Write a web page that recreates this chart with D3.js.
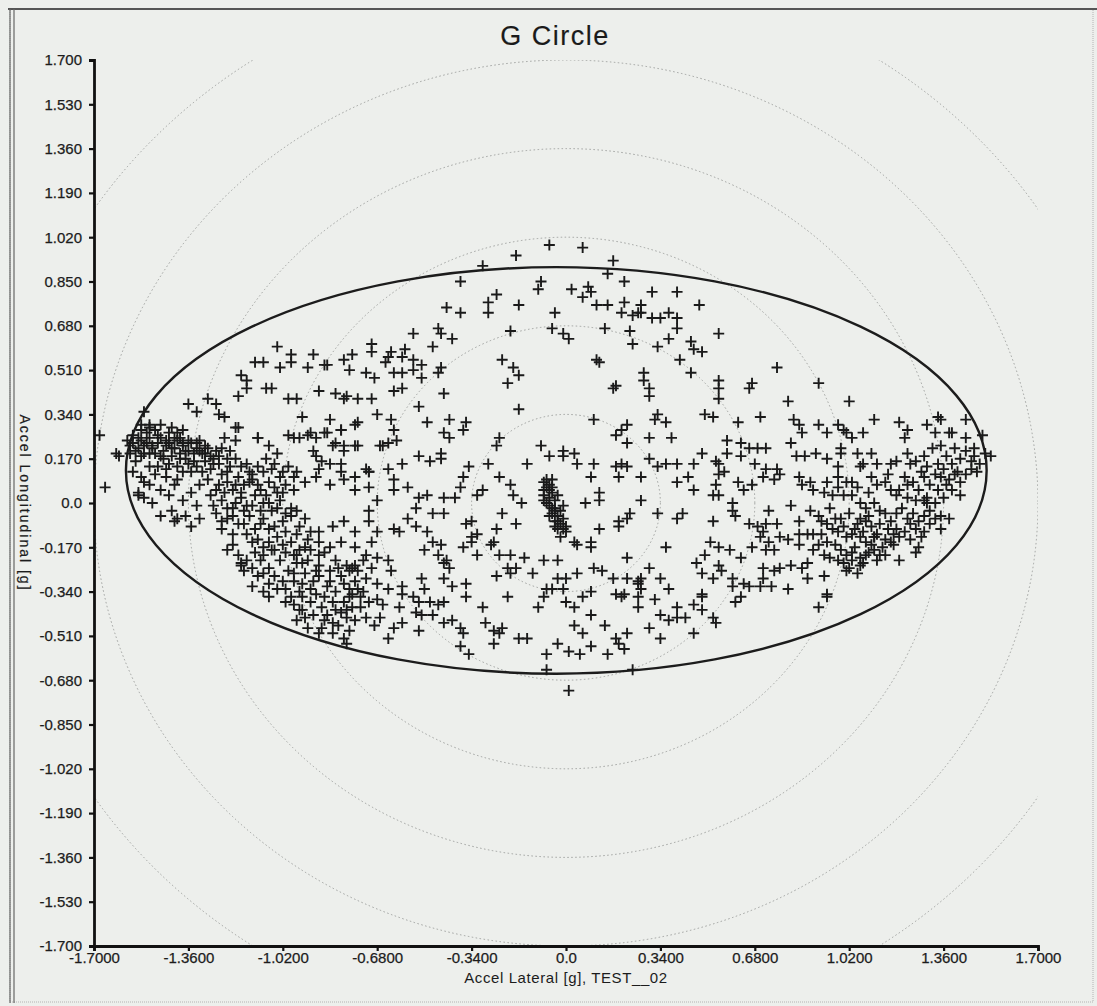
<!DOCTYPE html>
<html>
<head>
<meta charset="utf-8">
<script src="https://cdn.jsdelivr.net/npm/d3@7"></script>
<style>
  html, body { margin: 0; padding: 0; background: #edefec; }
  svg { display: block; font-family: Arial, "Liberation Sans", sans-serif; }
</style>
</head>
<body>
<svg id="gCircle" width="1097" height="1006"></svg>
<script>
// ---- data (g units) ----
const xTicks = [-1.7, -1.36, -1.02, -0.68, -0.34, 0, 0.34, 0.68, 1.02, 1.36, 1.7];
const xTickLabels = ["-1.7000", "-1.3600", "-1.0200", "-0.6800", "-0.3400", "0.0", "0.3400", "0.6800", "1.0200", "1.3600", "1.7000"];
const yTicks = [1.7, 1.53, 1.36, 1.19, 1.02, 0.85, 0.68, 0.51, 0.34, 0.17, 0, -0.17, -0.34, -0.51, -0.68, -0.85, -1.02, -1.19, -1.36, -1.53, -1.7];
const yTickLabels = ["1.700", "1.530", "1.360", "1.190", "1.020", "0.850", "0.680", "0.510", "0.340", "0.170", "0.0", "-0.170", "-0.340", "-0.510", "-0.680", "-0.850", "-1.020", "-1.190", "-1.360", "-1.530", "-1.700"];

const gridRadii = [0.34, 0.68, 1.02, 1.36, 1.7, 2.04];
const gEllipse = { cx: -0.035, cy: 0.125, rx: 1.55, ry: 0.78 };

// [lateral, longitudinal]
const upperLeft = [
  [-0.06,0.99],[-0.18,0.95],[-0.30,0.91],[-0.38,0.85],[-0.09,0.85],[-0.10,0.82],[-0.25,0.80],[-0.28,0.77],[-0.28,0.73],[-0.43,0.75],
  [-0.38,0.73],[-0.17,0.76],[-0.04,0.73],[-0.20,0.66],[-0.05,0.67],[-0.01,0.65],[-0.55,0.65],[-0.46,0.67],[-0.45,0.65],[-0.41,0.63],
  [-0.48,0.60],[-0.70,0.61],[-0.70,0.58],[-0.58,0.59],[-1.04,0.60],[-0.99,0.57],[-0.99,0.54],[-0.91,0.57],[-0.86,0.53],[-0.87,0.53],
  [-0.80,0.55],[-0.77,0.57],[-1.12,0.54],[-1.09,0.54],[-1.03,0.52],[-0.93,0.52],[-0.78,0.51],[-0.72,0.50],[-0.69,0.48],[-0.64,0.56],
  [-0.65,0.54],[-0.63,0.58],[-0.59,0.56],[-0.55,0.55],[-0.52,0.53],[-0.62,0.50],[-0.59,0.50],[-0.55,0.51],[-0.52,0.48],[-0.45,0.52],
  [-0.46,0.50],[-0.23,0.55],[-0.19,0.52],[-0.17,0.49],[-0.21,0.46],[-1.17,0.49],[-1.15,0.47],[-1.15,0.44],[-1.18,0.41],[-1.08,0.44],
  [-1.06,0.44],[-0.89,0.43],[-0.83,0.42],[-0.80,0.40],[-0.79,0.41],[-0.75,0.40],[-0.70,0.40],[-0.62,0.43],[-0.59,0.44],[-0.44,0.42],
  [-0.53,0.37],[-1.00,0.40],[-0.97,0.40],[-1.36,0.38],[-1.29,0.40],[-1.26,0.38],[-1.33,0.35],[-1.25,0.34],[-1.23,0.33],[-1.52,0.35],
  [-0.95,0.33],[-0.85,0.32],[-0.81,0.28],[-0.86,0.27],[-0.75,0.31],[-0.68,0.34],[-0.63,0.32],[-0.62,0.28],[-0.50,0.31],[-0.42,0.32],
  [-0.36,0.31],[-0.37,0.28],[-0.44,0.27],[-0.42,0.25],[-0.17,0.36],[-0.24,0.25],[-0.25,0.22],[-1.19,0.29],[-1.42,0.29],[-1.38,0.28],
  [-1.50,0.30],[-1.53,0.28],[-0.93,0.26],[-0.98,0.25],[-0.90,0.25],[-1.11,0.25],[-0.83,0.23],[-0.80,0.22],[-0.76,0.22],[-0.67,0.22],
  [-0.64,0.23],[-0.61,0.24],[-0.53,0.18],[-0.49,0.16],[-0.45,0.19],[-0.45,0.17],[-0.28,0.15],[-0.35,0.14],[-0.14,0.15],[-0.09,0.22],
  [-0.06,0.18],[-0.01,0.20],[-0.01,0.18],[-0.64,0.13],[-0.59,0.15],[-0.71,0.12]
];

const leftBand = [
  [-1.58,0.24],[-1.56,0.23],[-1.54,0.25],[-1.52,0.22],[-1.51,0.23],[-1.49,0.21],[-1.47,0.23],[-1.46,0.25],[-1.44,0.22],[-1.43,0.23],
  [-1.41,0.21],[-1.40,0.24],[-1.38,0.22],[-1.36,0.20],[-1.35,0.23],[-1.33,0.21],[-1.31,0.19],[-1.30,0.22],[-1.28,0.18],[-1.26,0.20],
  [-1.57,0.19],[-1.53,0.18],[-1.50,0.19],[-1.46,0.18],[-1.42,0.18],[-1.37,0.17],[-1.34,0.16],[-1.51,0.27],[-1.48,0.28],[-1.43,0.27],
  [-1.39,0.25],[-1.32,0.24],[-1.55,0.16],[-1.47,0.14],[-1.40,0.14],[-1.53,0.30],[-1.50,0.29],[-1.46,0.30],[-1.40,0.27],[-1.18,0.29],
  [-1.23,0.25],[-1.19,0.24],[-1.11,0.25],[-1.07,0.22],[-1.04,0.19],[-1.00,0.26],[-0.96,0.25],[-0.92,0.27],[-0.87,0.27],[-0.81,0.28],
  [-0.76,0.30],[-0.84,0.22],[-0.80,0.20],[-0.75,0.22],[-0.81,0.15],[-0.91,0.20],[-0.88,0.16],[-0.89,0.13],[-0.72,0.13],[-0.71,0.12],
  [-0.66,0.22],
  [-1.57,0.22],[-1.55,0.20],[-1.53,0.24],[-1.52,0.19],[-1.50,0.25],[-1.49,0.22],[-1.48,0.19],[-1.47,0.26],[-1.45,0.20],[-1.44,0.24],
  [-1.42,0.21],[-1.41,0.25],[-1.39,0.19],[-1.38,0.23],[-1.37,0.20],[-1.36,0.24],[-1.34,0.19],[-1.33,0.23],[-1.32,0.20],[-1.30,0.19],
  [-1.29,0.21],[-1.27,0.17],[-1.25,0.18],[-1.24,0.21],[-1.22,0.17],[-1.21,0.20],[-1.56,0.26],[-1.54,0.21],[-1.45,0.17],[-1.43,0.15],
  [-1.39,0.17],[-1.36,0.15],[-1.33,0.14],[-1.31,0.12],[-1.38,0.12],[-1.44,0.13],[-1.50,0.14],[-1.56,0.12],[-1.48,0.11],[-1.52,0.08],
  [-1.68,0.26],[-1.66,0.06],[-1.62,0.19],[-1.61,0.18]
];

const leftCluster = [
  [-1.30,0.16],[-1.28,0.13],[-1.25,0.15],[-1.22,0.12],[-1.19,0.17],[-1.17,0.14],[-1.14,0.12],[-1.11,0.14],[-1.08,0.17],[-1.06,0.13],
  [-1.03,0.10],[-1.00,0.14],[-1.29,0.09],[-1.25,0.07],[-1.22,0.08],[-1.20,0.05],[-1.16,0.07],[-1.13,0.09],[-1.10,0.05],[-1.07,0.08],
  [-1.04,0.04],[-1.01,0.07],[-1.28,0.03],[-1.24,0.01],[-1.20,-0.02],[-1.17,0.02],[-1.15,-0.01],[-1.12,0.03],[-1.09,0.00],[-1.06,-0.03],
  [-1.03,0.01],[-0.99,-0.02],[-1.26,-0.04],[-1.22,-0.06],[-1.18,-0.08],[-1.14,-0.05],[-1.10,-0.08],[-1.07,-0.10],[-1.02,-0.07],[-0.99,-0.05],
  [-0.96,-0.09],[-1.15,-0.12],[-1.11,-0.14],[-1.07,-0.15],[-1.04,-0.13],[-0.99,-0.15],[-0.96,-0.18],[-0.92,-0.11],[-0.89,-0.15],
  [-1.27,0.15],[-1.24,0.11],[-1.21,0.14],[-1.18,0.10],[-1.15,0.15],[-1.13,0.11],[-1.09,0.12],[-1.05,0.15],[-1.02,0.12],[-0.98,0.10],
  [-1.26,0.05],[-1.23,0.04],[-1.19,0.07],[-1.17,0.04],[-1.14,0.08],[-1.11,0.07],[-1.08,0.03],[-1.05,0.06],[-1.02,0.04],[-0.98,0.05],
  [-1.27,-0.01],[-1.22,-0.02],[-1.19,0.00],[-1.16,-0.03],[-1.13,-0.01],[-1.10,-0.03],[-1.07,0.00],[-1.04,-0.02],[-1.01,-0.04],[-0.97,-0.03],
  [-1.24,-0.07],[-1.20,-0.05],[-1.16,-0.08],[-1.12,-0.10],[-1.09,-0.06],[-1.05,-0.09],[-1.01,-0.11],[-0.97,-0.12],[-0.94,-0.06],[-0.93,-0.14],
  [-1.13,-0.15],[-1.09,-0.17],[-1.05,-0.18],[-1.02,-0.16],[-0.98,-0.20],[-0.95,-0.23],[-0.92,-0.18],[-0.87,-0.19],[-1.20,-0.12],[-1.24,-0.10],
  [-1.54,0.04],[-1.52,0.02],[-1.49,0.00],[-1.46,0.05],[-1.43,0.03],[-1.41,0.07],[-1.38,0.01],[-1.35,0.04],[-1.33,-0.01],[-1.37,-0.05],
  [-1.42,-0.03],[-1.46,-0.05],[-1.50,0.07],[-1.53,0.10],[-1.44,0.10],[-1.40,0.09],[-1.35,0.12],[-1.32,0.07],[-1.41,-0.07],[-1.35,-0.09],
  [-0.90,0.18],[-0.85,0.15],[-0.81,0.12],[-0.76,0.10],[-0.97,0.12],[-0.94,0.08],[-0.90,0.10],[-0.85,0.07],[-0.80,0.09],[-0.76,0.05]
];

const leftDiagonal = [
  [-1.22,-0.18],[-1.18,-0.20],[-1.15,-0.22],[-1.12,-0.19],[-1.10,-0.22],[-1.07,-0.25],[-1.03,-0.22],[-1.00,-0.26],[-0.97,-0.23],[-0.94,-0.27],
  [-0.91,-0.30],[-0.89,-0.28],[-0.86,-0.32],[-0.83,-0.34],[-0.80,-0.31],[-0.78,-0.36],[-1.16,-0.26],[-1.11,-0.28],[-1.07,-0.31],[-1.04,-0.33],
  [-0.99,-0.36],[-0.96,-0.34],[-0.92,-0.38],[-0.88,-0.40],[-0.84,-0.38],[-0.81,-0.42],[-0.77,-0.40],[-1.06,-0.18],[-1.01,-0.19],[-0.97,-0.20],
  [-0.93,-0.22],[-0.89,-0.24],[-0.85,-0.26],[-0.81,-0.28],[-0.76,-0.30],[-0.73,-0.34],[-0.96,-0.41],[-0.91,-0.43],[-0.87,-0.45],[-0.82,-0.47],
  [-0.78,-0.49],[-0.90,-0.35],[-1.01,-0.38],[-0.98,-0.30],[-0.94,-0.17],[-0.89,-0.20],[-0.83,-0.22],[-0.79,-0.24],[-0.75,-0.26],[-0.72,-0.20],
  [-0.76,-0.17],[-0.81,-0.15],[-0.85,-0.17],[-0.89,-0.11],[-0.84,-0.09],[-0.80,-0.07],[-0.76,-0.11],[-0.71,-0.07],[-0.70,-0.15],[-0.68,-0.11],
  [-1.20,-0.16],[-1.17,-0.23],[-1.13,-0.25],[-1.09,-0.20],[-1.05,-0.28],[-1.02,-0.30],[-0.98,-0.27],[-0.95,-0.31],[-0.92,-0.33],[-0.90,-0.26],
  [-0.87,-0.36],[-0.85,-0.30],[-0.83,-0.41],[-0.80,-0.38],[-0.79,-0.44],[-0.76,-0.45],[-0.74,-0.40],[-0.75,-0.33],[-0.72,-0.44],[-0.86,-0.43],
  [-0.84,-0.50],[-0.80,-0.52],[-0.94,-0.44],[-0.98,-0.39],[-1.13,-0.32],[-1.09,-0.34],[-0.93,-0.48],[-0.89,-0.50],[-0.77,-0.35],[-0.82,-0.25]
];

const lowerLeft = [
  [-1.54,0.03],[-1.40,-0.06],[-1.32,-0.06],[-1.17,-0.24],[-1.09,-0.27],[-1.07,-0.36],[-1.01,-0.33],[-0.95,-0.36],[-0.95,-0.41],[-0.97,-0.45],
  [-0.88,-0.48],[-0.84,-0.46],[-0.79,-0.41],[-0.79,-0.54],[-0.71,0.06],[-0.68,0.01],[-0.71,-0.03],[-0.62,0.09],[-0.62,0.05],[-0.57,0.06],
  [-0.53,0.02],[-0.50,0.03],[-0.44,0.02],[-0.40,0.02],[-0.37,0.10],[-0.38,0.06],[-0.32,0.03],[-0.30,0.05],[-0.24,0.10],[-0.20,0.07],
  [-0.19,0.03],[-0.16,0.00],[-0.23,-0.04],[-0.18,-0.08],[-0.25,-0.10],[-0.32,-0.12],[-0.36,-0.08],[-0.34,-0.07],[-0.48,-0.04],[-0.44,-0.04],
  [-0.54,-0.02],[-0.57,-0.06],[-0.54,-0.09],[-0.62,-0.10],[-0.60,-0.11],[-0.50,-0.11],[-0.48,-0.15],[-0.45,-0.16],[-0.46,-0.20],[-0.51,-0.18],
  [-0.43,-0.22],[-0.42,-0.25],[-0.44,-0.23],[-0.37,-0.17],[-0.34,-0.15],[-0.32,-0.20],[-0.34,-0.13],[-0.27,-0.16],[-0.26,-0.15],[-0.24,-0.20],
  [-0.20,-0.20],[-0.15,-0.21],[-0.21,-0.25],[-0.20,-0.27],[-0.25,-0.28],[-0.18,-0.25],[-0.12,-0.27],[-0.08,-0.22],[-0.03,-0.22],[-0.03,-0.29],
  [0.00,-0.29],[-0.07,-0.33],[-0.05,-0.33],[-0.01,-0.33],[-0.08,-0.36],[-0.10,-0.40],[0.00,-0.38],[-0.21,-0.36],[-0.30,-0.40],[-0.36,-0.31],
  [-0.36,-0.36],[-0.41,-0.32],[-0.44,-0.29],[-0.52,-0.29],[-0.51,-0.33],[-0.59,-0.32],[-0.59,-0.35],[-0.55,-0.36],[-0.53,-0.38],[-0.49,-0.38],
  [-0.46,-0.39],[-0.44,-0.38],[-0.54,-0.42],[-0.52,-0.43],[-0.48,-0.43],[-0.60,-0.40],[-0.66,-0.39],[-0.67,-0.44],[-0.69,-0.47],[-0.62,-0.48],
  [-0.59,-0.46],[-0.53,-0.49],[-0.64,-0.52],[-0.44,-0.46],[-0.41,-0.45],[-0.38,-0.48],[-0.37,-0.50],[-0.38,-0.55],[-0.35,-0.58],[-0.29,-0.46],
  [-0.26,-0.49],[-0.24,-0.50],[-0.23,-0.48],[-0.26,-0.54],[-0.17,-0.52],[-0.14,-0.52],[-0.07,-0.58],[-0.03,-0.54],[-0.07,-0.64],[0.01,-0.72],
  [-0.73,-0.22],[-0.68,-0.21],[-0.64,-0.22],[-0.63,-0.26],[-0.70,-0.25],[-0.72,-0.29],[-0.68,-0.31],[-0.64,-0.33],[-0.77,-0.25],[-0.78,-0.26],
  [-0.76,-0.24],[-0.78,-0.33],[-0.74,-0.36],[-0.71,-0.38],[-0.68,-0.37]
];

const centreBlob = [
  [-0.08,0.08],[-0.07,0.09],[-0.06,0.07],[-0.08,0.05],[-0.05,0.04],[-0.06,0.02],[-0.04,0.01],[-0.06,-0.01],[-0.04,-0.02],[-0.05,-0.04],
  [-0.03,-0.05],[-0.04,-0.07],[-0.02,-0.08],[-0.01,-0.10],[-0.03,-0.10],[-0.06,0.05],[-0.05,0.09],[-0.03,0.03],[-0.08,0.01],[-0.02,-0.03],
  [-0.01,-0.06],[-0.04,-0.09],[0.00,-0.09],[-0.06,-0.05],[-0.08,0.03],[-0.01,-0.01],[-0.07,0.06],[-0.05,0.06],[-0.07,0.00],[-0.04,-0.03],
  [-0.03,-0.07],[-0.05,-0.02],[0.00,-0.11]
];

const upperRight = [
  [0.06,0.98],[0.17,0.93],[0.15,0.88],[0.02,0.82],[0.08,0.83],[0.09,0.81],[0.06,0.79],[0.21,0.85],[0.31,0.81],[0.40,0.81],
  [0.48,0.76],[0.11,0.76],[0.15,0.76],[0.20,0.73],[0.21,0.77],[0.27,0.76],[0.27,0.73],[0.24,0.72],[0.26,0.73],[0.31,0.71],
  [0.34,0.71],[0.37,0.73],[0.40,0.71],[0.40,0.67],[0.01,0.63],[0.14,0.67],[0.23,0.66],[0.24,0.61],[0.33,0.60],[0.37,0.63],
  [0.45,0.62],[0.46,0.59],[0.49,0.58],[0.55,0.65],[0.11,0.55],[0.12,0.54],[0.41,0.55],[0.45,0.50],[0.76,0.52],[0.28,0.50],
  [0.28,0.47],[0.30,0.44],[0.30,0.41],[0.18,0.45],[0.17,0.44],[0.55,0.47],[0.55,0.44],[0.55,0.40],[0.67,0.46],[0.66,0.44],
  [0.91,0.46],[0.80,0.39],[1.02,0.39],[0.10,0.32],[0.33,0.34],[0.32,0.32],[0.36,0.31],[0.22,0.30],[0.20,0.28],[0.18,0.26],
  [0.22,0.23],[0.30,0.25],[0.38,0.25],[0.50,0.34],[0.53,0.33],[0.62,0.31],[0.70,0.33],[0.82,0.32],[0.84,0.30],[0.85,0.27],
  [0.81,0.23],[0.91,0.30],[0.94,0.27],[0.98,0.30],[1.00,0.28],[1.01,0.27],[1.03,0.25],[1.07,0.27],[1.11,0.32],[1.20,0.31],
  [1.23,0.28],[1.22,0.25],[1.30,0.30],[1.34,0.33],[1.35,0.32],[1.33,0.27],[1.38,0.27],[1.39,0.27],[1.44,0.32],[1.44,0.25],
  [1.50,0.26],[0.58,0.24],[0.63,0.23],[0.58,0.19],[0.63,0.18],[0.66,0.21],[0.69,0.21],[0.72,0.21],[0.49,0.19],[0.54,0.16],
  [0.68,0.15],[0.72,0.13],[0.76,0.13],[0.83,0.18],[0.86,0.18],[0.90,0.19],[0.94,0.17],[0.98,0.14],[0.99,0.19],[0.99,0.21],
  [1.05,0.19],[1.10,0.19],[1.06,0.14],[1.07,0.15],[1.12,0.15],[1.17,0.15],[1.19,0.16],[1.23,0.19],[1.24,0.15],[1.26,0.16],
  [1.29,0.18],[1.30,0.14],[1.34,0.15],[1.37,0.18],[1.39,0.15],[1.42,0.17],[1.46,0.16],[1.47,0.18],[1.51,0.19],[0.03,0.19],
  [0.04,0.15],[0.10,0.15],[0.18,0.14],[0.20,0.15],[0.22,0.14],[0.30,0.17],[0.33,0.14],[0.36,0.15],[0.40,0.15],[0.46,0.15],
  [0.55,0.15],[0.57,0.12],[1.35,0.22],[1.40,0.21],[1.44,0.20],[1.47,0.21],[1.36,0.13],[1.41,0.12],[1.28,0.12],[1.32,0.21],
  [1.49,0.15],[1.53,0.18]
];

const lowerRight = [
  [0.09,0.10],[0.19,0.10],[0.27,0.10],[0.40,0.08],[0.44,0.10],[0.46,0.05],[0.55,0.11],[0.54,0.07],[0.53,0.03],[0.55,0.03],
  [0.62,0.08],[0.67,0.07],[0.64,0.05],[0.71,0.10],[0.75,0.09],[0.77,0.11],[0.84,0.10],[0.85,0.07],[0.88,0.08],[0.89,0.05],
  [0.93,0.04],[0.94,0.08],[0.98,0.10],[0.98,0.06],[1.01,0.08],[1.03,0.08],[1.00,0.03],[1.03,0.03],[1.10,0.10],[1.12,0.07],
  [1.15,0.08],[1.17,0.05],[1.19,0.03],[1.23,0.07],[1.25,0.08],[1.29,0.10],[1.31,0.07],[1.35,0.10],[1.37,0.07],[1.40,0.11],
  [1.42,0.03],[1.29,0.01],[1.30,0.02],[1.34,0.05],[0.12,0.04],[0.12,0.01],[0.07,0.00],[0.27,0.01],[0.33,-0.04],[0.40,-0.06],
  [0.42,-0.04],[0.53,-0.07],[0.60,0.00],[0.60,-0.03],[0.61,-0.05],[0.73,-0.03],[0.81,-0.01],[0.19,-0.07],[0.19,-0.09],[0.23,-0.04],
  [0.22,-0.06],[0.12,-0.10],[0.03,-0.15],[0.04,-0.16],[0.09,-0.15],[0.09,-0.17],[-0.02,-0.13],[0.36,-0.17],[0.22,-0.21],[0.52,-0.15],
  [0.55,-0.17],[0.59,-0.18],[0.63,-0.21],[0.66,-0.08],[0.69,-0.09],[0.72,-0.08],[0.76,-0.08],[0.71,-0.11],[0.70,-0.13],[0.73,-0.15],
  [0.67,-0.17],[0.72,-0.18],[0.75,-0.18],[0.77,-0.13],[0.80,-0.14],[0.84,-0.07],[0.84,-0.12],[0.84,-0.16],[0.87,-0.12],[0.89,-0.12],
  [0.91,-0.16],[0.94,-0.15],[0.92,-0.07],[0.94,-0.08],[0.96,-0.10],[0.99,-0.06],[1.02,-0.04],[1.05,-0.08],[1.06,-0.06],[1.09,-0.05],
  [0.98,-0.11],[1.01,-0.13],[1.03,-0.12],[1.06,-0.13],[1.08,-0.15],[1.11,-0.13],[1.12,-0.12],[1.14,-0.17],[1.17,-0.15],[0.99,-0.18],
  [1.01,-0.20],[1.03,-0.19],[1.06,-0.21],[1.08,-0.20],[1.11,-0.18],[1.03,-0.22],[1.06,-0.24],[1.02,-0.25],[1.00,-0.23],[0.98,-0.22],
  [0.95,-0.21],[0.93,-0.20],[1.06,0.00],[1.08,-0.02],[1.11,0.00],[1.13,-0.03],[1.15,-0.04],[1.17,-0.07],[1.19,-0.04],[1.21,-0.02],
  [1.23,-0.06],[1.25,-0.04],[1.24,-0.08],[1.26,-0.10],[1.29,-0.11],[1.28,-0.13],[1.18,-0.12],[1.16,-0.10],[1.13,-0.08],[1.10,-0.09],
  [1.08,-0.07],[1.11,-0.13],[1.20,-0.13],[1.18,-0.16],[1.29,-0.05],[1.33,-0.06],[1.35,-0.05],[1.38,-0.06],[1.31,-0.08],[1.35,-0.10],
  [1.27,-0.17],[1.26,-0.19],[1.20,-0.22],[1.20,0.05],[1.23,0.02],[1.26,0.01],[1.30,0.00],[0.50,-0.20],[0.47,-0.23],[0.49,-0.27],
  [0.53,-0.29],[0.56,-0.26],[0.55,-0.24],[0.60,-0.29],[0.60,-0.32],[0.64,-0.31],[0.63,-0.36],[0.61,-0.38],[0.71,-0.25],[0.75,-0.26],
  [0.77,-0.25],[0.81,-0.24],[0.71,-0.29],[0.70,-0.32],[0.66,-0.32],[0.74,-0.32],[0.80,-0.33],[0.85,-0.25],[0.87,-0.23],[0.87,-0.29],
  [0.93,-0.28],[0.94,-0.35],[0.94,-0.36],[0.91,-0.40],[0.49,-0.35],[0.49,-0.36],[0.46,-0.39],[0.49,-0.41],[0.53,-0.44],[0.54,-0.46],
  [0.40,-0.40],[0.34,-0.43],[0.37,-0.45],[0.43,-0.44],[0.40,-0.44],[0.46,-0.50],[0.30,-0.48],[0.34,-0.52],[0.04,-0.27],[0.10,-0.25],
  [0.13,-0.26],[0.17,-0.29],[0.22,-0.29],[0.26,-0.30],[0.27,-0.29],[0.30,-0.25],[0.34,-0.29],[0.26,-0.31],[0.27,-0.33],[0.26,-0.36],
  [0.26,-0.40],[0.21,-0.35],[0.18,-0.35],[0.20,-0.36],[0.37,-0.33],[0.32,-0.37],[0.03,-0.40],[0.06,-0.36],[0.09,-0.34],[0.09,-0.43],
  [0.03,-0.47],[0.06,-0.50],[0.01,-0.57],[0.05,-0.58],[0.09,-0.55],[0.15,-0.58],[0.18,-0.52],[0.19,-0.54],[0.22,-0.50],[0.21,-0.56],
  [0.14,-0.47],[0.24,-0.64]
];

const rightCluster = [
  [0.88,-0.03],[0.91,-0.05],[0.95,-0.02],[0.97,-0.06],[1.00,-0.09],[1.04,-0.10],[1.07,-0.11],[1.10,-0.16],[1.13,-0.20],[1.15,-0.14],
  [1.19,-0.10],[1.22,-0.11],[1.24,-0.14],[1.27,-0.07],[1.31,-0.03],[1.33,0.00],[1.36,0.02],[1.39,0.05],[1.42,0.08],[1.44,0.11],
  [1.46,0.13],[1.48,0.12],[1.38,0.09],[1.33,0.11],[1.27,0.05],[1.22,0.10],[1.16,0.11],[1.09,0.04],[1.05,0.06],[0.96,0.03],
  [1.04,-0.17],[1.07,-0.23],[1.09,-0.19],[1.12,-0.22],[1.15,-0.20],[0.97,-0.16],[0.92,-0.12],[0.89,-0.18],[1.01,-0.26],[1.05,-0.27]
];

// ---- layout ----
const svg = d3.select("#gCircle");
const width = +svg.attr("width");
const height = +svg.attr("height");
const margin = { top: 60, left: 94, right: 59, bottom: 60 };
const innerWidth = width - margin.left - margin.right;
const innerHeight = height - margin.top - margin.bottom;

const xScale = d3.scaleLinear().domain([-1.7, 1.7]).range([0, innerWidth]);
const yScale = d3.scaleLinear().domain([-1.7, 1.7]).range([innerHeight, 0]);

// window frame
svg.append("rect")
  .attr("x", 10).attr("y", 9)
  .attr("width", width - 14).attr("height", height - 13)
  .attr("fill", "none")
  .attr("stroke", "#c6c8c5")
  .attr("stroke-width", 1.5)
  .attr("stroke-dasharray", "1,1");
svg.append("line")
  .attr("x1", 8).attr("x2", width).attr("y1", 9).attr("y2", 9)
  .attr("stroke", "#555").attr("stroke-width", 2);
[10, 14].forEach((x) => {
  svg.append("line")
    .attr("x1", x).attr("x2", x).attr("y1", 9).attr("y2", height - 3)
    .attr("stroke", "#666").attr("stroke-width", 1.2);
});

// title
svg.append("text")
  .text("G Circle")
  .attr("x", 555)
  .attr("y", 45)
  .attr("text-anchor", "middle")
  .attr("font-size", 27)
  .attr("letter-spacing", 1.5)
  .attr("stroke", "#1a1a1a")
  .attr("stroke-width", 0.15)
  .attr("fill", "#1a1a1a");

const g = svg.append("g")
  .attr("transform", `translate(${margin.left},${margin.top})`);

g.append("defs")
  .append("clipPath")
  .attr("id", "clip")
  .append("rect")
  .attr("width", innerWidth)
  .attr("height", innerHeight);

const chart = g.append("g").attr("clip-path", "url(#clip)");

// dotted reference circles
chart.selectAll("ellipse.grid")
  .data(gridRadii)
  .enter()
  .append("ellipse")
  .attr("class", "grid")
  .attr("cx", xScale(0))
  .attr("cy", yScale(0))
  .attr("rx", (r) => xScale(r) - xScale(0))
  .attr("ry", (r) => yScale(0) - yScale(r))
  .attr("fill", "none")
  .attr("stroke", "#9fa19f")
  .attr("stroke-width", 1)
  .attr("stroke-dasharray", "1.5,2.5");

// g-limit ellipse
chart.append("ellipse")
  .attr("cx", xScale(gEllipse.cx))
  .attr("cy", yScale(gEllipse.cy))
  .attr("rx", xScale(gEllipse.rx) - xScale(0))
  .attr("ry", yScale(0) - yScale(gEllipse.ry))
  .attr("fill", "none")
  .attr("stroke", "#1c1c1c")
  .attr("stroke-width", 2.4);

// samples
const samples = [].concat(upperLeft, leftBand, leftCluster, leftDiagonal, lowerLeft, centreBlob, upperRight, lowerRight, rightCluster);
chart.selectAll("path.pt")
  .data(samples)
  .enter()
  .append("path")
  .attr("class", "pt")
  .attr("transform", (d) => `translate(${xScale(d[0])},${yScale(d[1])})`)
  .attr("d", "M-5.5,0H5.5M0,-5.5V5.5")
  .attr("stroke", "#1a1a1a")
  .attr("stroke-width", 1.9)
  .attr("fill", "none");

// axes
const yAxis = d3.axisLeft(yScale)
  .tickValues(yTicks)
  .tickFormat((d, i) => yTickLabels[i])
  .tickSize(5)
  .tickSizeOuter(5)
  .tickPadding(7);
const yAxisG = g.append("g").call(yAxis);

const xAxis = d3.axisBottom(xScale)
  .tickValues(xTicks)
  .tickFormat((d, i) => xTickLabels[i])
  .tickSize(5)
  .tickSizeOuter(5)
  .tickPadding(1);
const xAxisG = g.append("g")
  .attr("transform", `translate(0,${innerHeight})`)
  .call(xAxis);

[yAxisG, xAxisG].forEach((ax) => {
  ax.attr("font-family", null).attr("font-size", null);
  ax.select(".domain").attr("stroke", "#111").attr("stroke-width", 2.8);
  ax.selectAll(".tick line").attr("stroke", "#111").attr("stroke-width", 2.2);
  ax.selectAll(".tick text")
    .attr("fill", "#1c1c1c")
    .attr("stroke", "#1c1c1c")
    .attr("stroke-width", 0.25)
    .attr("font-size", 15);
});

// axis titles
svg.append("text")
  .text("Accel Longitudinal [g]")
  .attr("transform", `translate(20,${margin.top + yScale(0)}) rotate(90)`)
  .attr("text-anchor", "middle")
  .attr("font-size", 14)
  .attr("letter-spacing", 2)
  .attr("stroke", "#1c1c1c")
  .attr("stroke-width", 0.2)
  .attr("fill", "#1c1c1c");

svg.append("text")
  .text("Accel Lateral [g], TEST__02")
  .attr("x", margin.left + xScale(0))
  .attr("y", 983)
  .attr("text-anchor", "middle")
  .attr("font-size", 15)
  .attr("letter-spacing", 0.6)
  .attr("fill", "#1c1c1c");
</script>
</body>
</html>
